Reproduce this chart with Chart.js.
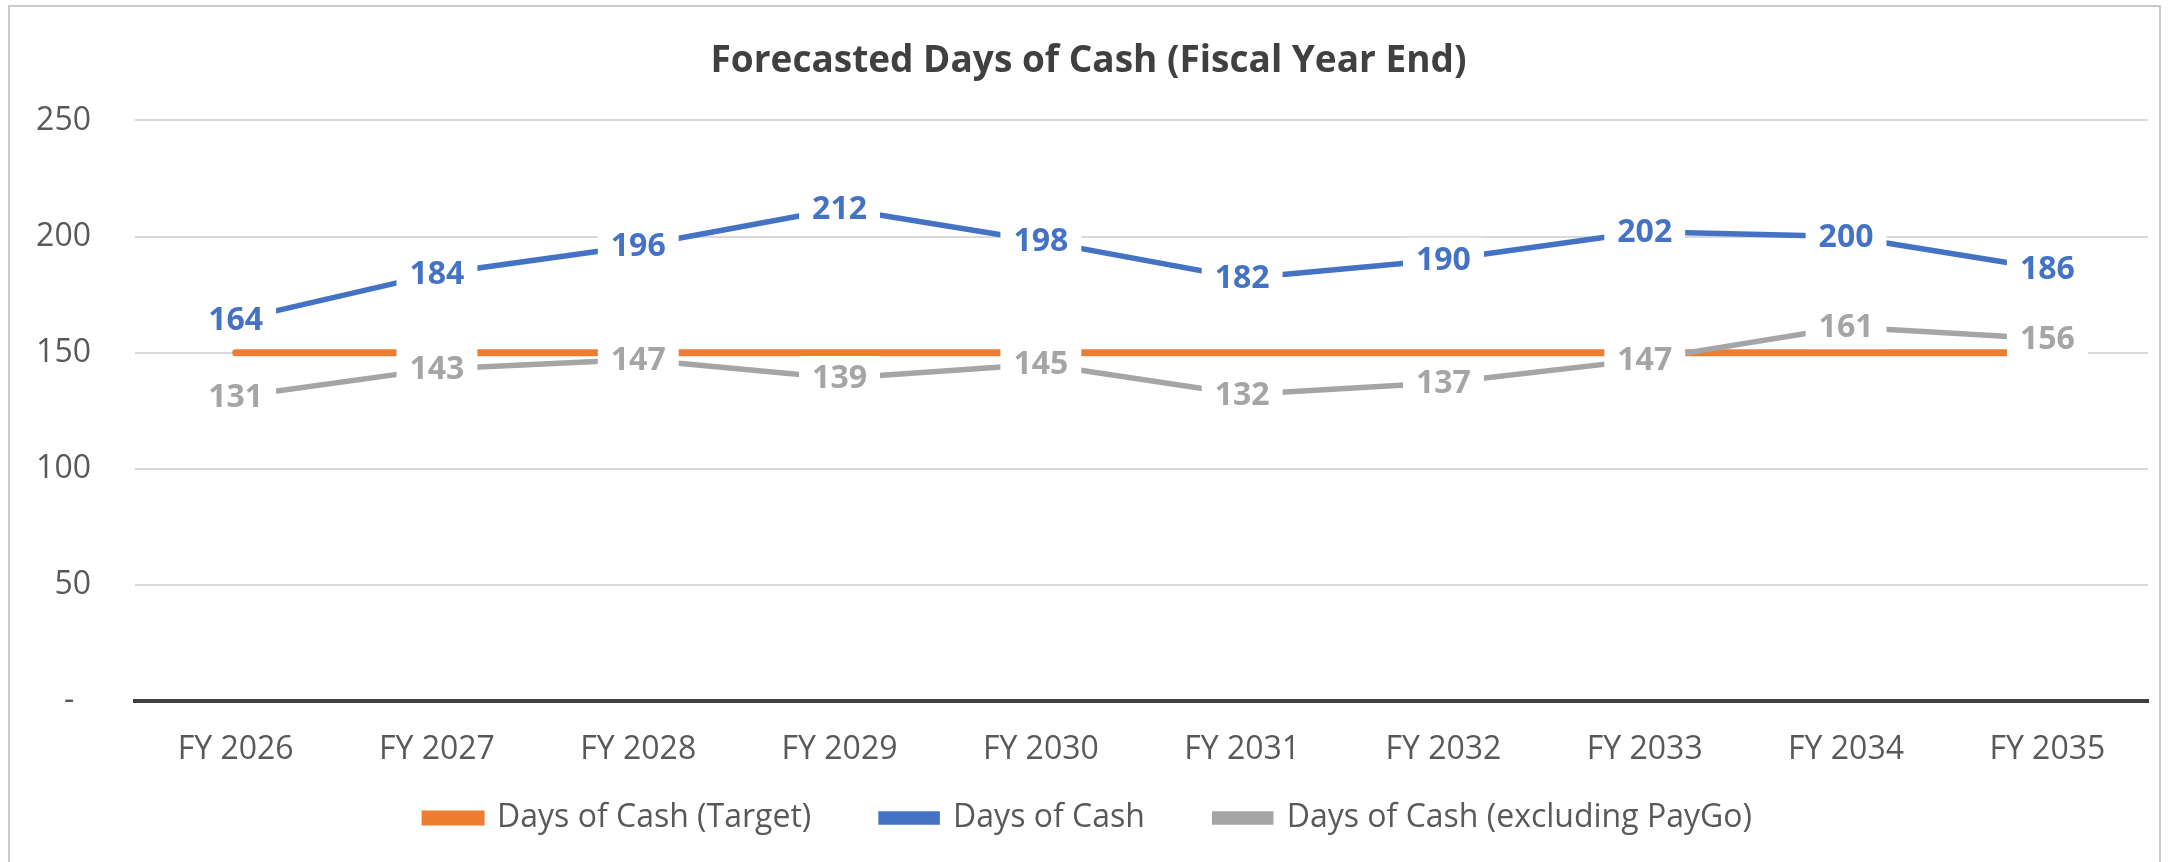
<!DOCTYPE html>
<html><head><meta charset="utf-8">
<script src="https://cdn.jsdelivr.net/npm/chart.js@4.4.1/dist/chart.umd.min.js"></script>
<style>
html,body{margin:0;padding:0;background:#fff;overflow:hidden;width:2177px;height:862px;}
#frame{position:absolute;left:8px;top:5px;width:2153px;height:900px;border:2px solid #c9c9c9;box-sizing:border-box;}
#c{position:absolute;left:0;top:0;}
</style></head><body>
<div id="frame"></div>
<canvas id="c" width="2177" height="862"></canvas>
<script>
const categories = ['FY 2026','FY 2027','FY 2028','FY 2029','FY 2030','FY 2031','FY 2032','FY 2033','FY 2034','FY 2035'];
const targetDays = [150,150,150,150,150,150,150,150,150,150];
const daysOfCash = [164,184,196,212,198,182,190,202,200,186];
const daysExclPayGo = [131,143,147,139,145,132,137,147,161,156];
const seriesNames = ['Days of Cash (Target)','Days of Cash','Days of Cash (excluding PayGo)'];
const yMin = 0, yMax = 250, yStep = 50;

const FONT = '"Open Sans", sans-serif';
Chart.defaults.font.family = FONT;
Chart.defaults.color = '#595959';

const labelPlugin = {
  id: 'pointLabels',
  afterDatasetsDraw(chart, args, opts) {
    const ctx = chart.ctx;
    (opts.datasets || []).forEach(i => {
      const ds = chart.data.datasets[i];
      const meta = chart.getDatasetMeta(i);
      ctx.save();
      ctx.font = 'bold 32px ' + FONT;
      ctx.textAlign = 'center';
      ctx.textBaseline = 'middle';
      meta.data.forEach((pt, j) => {
        const txt = String(ds.data[j]);
        const w = ctx.measureText(txt).width + 26;
        const h = 44;
        ctx.fillStyle = '#ffffff';
        ctx.fillRect(pt.x - w / 2, pt.y - h / 2, w, h);
        ctx.fillStyle = ds.borderColor;
        ctx.fillText(txt, pt.x, pt.y + 1);
      });
      ctx.restore();
    });
  }
};

function start() {
  const defaultLabels = Chart.defaults.plugins.legend.labels.generateLabels;
  new Chart(document.getElementById('c'), {
    type: 'line',
    data: {
      labels: categories,
      datasets: [
        { label: seriesNames[0], data: targetDays, borderColor: '#ED7D31', backgroundColor: '#ED7D31', borderWidth: 7, borderCapStyle: 'round', pointRadius: 0, order: 3 },
        { label: seriesNames[1], data: daysOfCash, borderColor: '#4472C4', backgroundColor: '#4472C4', borderWidth: 5.5, borderCapStyle: 'round', pointRadius: 0, order: 2 },
        { label: seriesNames[2], data: daysExclPayGo, borderColor: '#A5A5A5', backgroundColor: '#A5A5A5', borderWidth: 5.5, borderCapStyle: 'round', pointRadius: 0, order: 1 }
      ]
    },
    options: {
      responsive: false,
      animation: false,
      devicePixelRatio: 1,
      layout: { padding: { left: 29, right: 29, top: 0, bottom: 18 } },
      plugins: {
        tooltip: { enabled: false },
        pointLabels: { datasets: [1, 2] },
        title: {
          display: true,
          text: 'Forecasted Days of Cash (Fiscal Year End)',
          color: '#404040',
          font: { size: 37, weight: 'bold', family: FONT },
          padding: { top: 39, bottom: 37 }
        },
        legend: {
          position: 'bottom',
          labels: {
            boxWidth: 56, boxHeight: 8, padding: 20,
            color: '#595959',
            font: { size: 32, family: FONT },
            sort: (a, b) => a.datasetIndex - b.datasetIndex,
            generateLabels: chart => {
              const items = defaultLabels(chart);
              items.forEach(it => { if (it.datasetIndex < 2) it.text = it.text + '      '; });
              return items;
            }
          }
        }
      },
      scales: {
        x: {
          offset: true,
          grid: { display: false, drawTicks: false },
          border: { display: true, color: '#404040', width: 4 },
          ticks: { padding: 30, color: '#595959', font: { size: 32 }, maxRotation: 0, autoSkip: false },
          afterFit: s => { s.height = 81; }
        },
        y: {
          min: yMin, max: yMax,
          grid: { color: ctx => ctx.tick && ctx.tick.value === 0 ? 'rgba(0,0,0,0)' : '#d9d9d9', lineWidth: 2, drawTicks: false },
          border: { display: false },
          ticks: { stepSize: yStep, padding: 44, color: '#595959', font: { size: 32 },
                   callback: v => v === 0 ? '-  ' : String(v) },
          afterFit: s => { s.width = 106; }
        }
      }
    },
    plugins: [labelPlugin]
  });
}
if (document.fonts && document.fonts.load) {
  Promise.all([document.fonts.load('32px "Open Sans"'), document.fonts.load('bold 32px "Open Sans"')]).then(start, start);
} else start();
</script>
</body></html>
